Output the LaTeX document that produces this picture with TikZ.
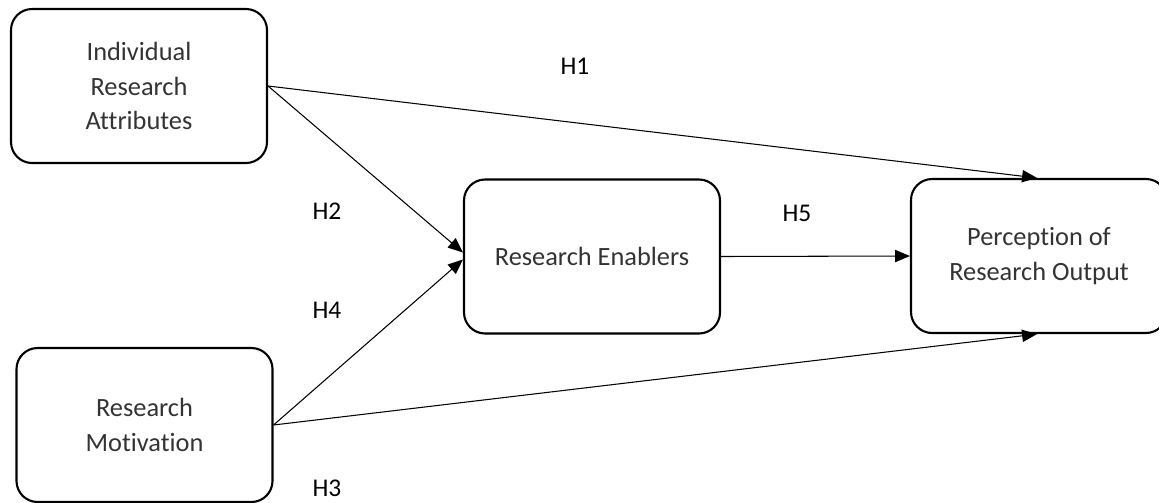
\documentclass[tikz,border=0pt]{standalone}
\usepackage{fontspec}
\setmainfont{Carlito}[Ligatures={NoCommon}]
\usetikzlibrary{arrows.meta}

\begin{document}
\begin{tikzpicture}[thick]
        \tikzstyle{construct}=[rectangle,rounded corners=12pt,draw=black,line width=1.2pt,minimum width=5.12cm,minimum height=3.08cm,inner sep=0pt,align=center,font=\fontsize{15}{19.5}\selectfont,text=black!80]
        \tikzstyle{hyp}=[font=\fontsize{14.5}{16}\selectfont,text=black]
        \tikzstyle{path}=[line width=0.6pt,-{Triangle[length=8.5pt,width=7pt]}]

        \clip (0,0) rectangle (23.18,-10.04);

        \node[construct] (ira) at (2.78,-1.72) {Individual\\Research\\Attributes};
        \node[construct] (rm) at (2.89,-8.5) {Research\\Motivation};
        \node[construct] (re) at (11.84,-5.13) {Research Enablers};
        \node[construct] (pro) at (20.78,-5.12) {Perception of\\Research Output};

        \node[hyp] (h1) at (11.5,-1.32) {H1};
        \node[hyp] (h2) at (6.54,-4.22) {H2};
        \node[hyp] (h4) at (6.54,-6.2) {H4};
        \node[hyp] (h5) at (15.94,-4.26) {H5};
        \node[hyp] (h3) at (6.54,-9.76) {H3};

        \draw[path] (ira.east) -- ([xshift=-0.04cm]pro.north);
        \draw[path] (ira.east) -- ([yshift=0.08cm]re.west);
        \draw[path] (rm.east) -- ([yshift=-0.06cm]re.west);
        \draw[path] (rm.east) -- ([xshift=-0.04cm]pro.south);
        \draw[path] (re.east) -- (pro.west);
    \end{tikzpicture}
\end{document}
